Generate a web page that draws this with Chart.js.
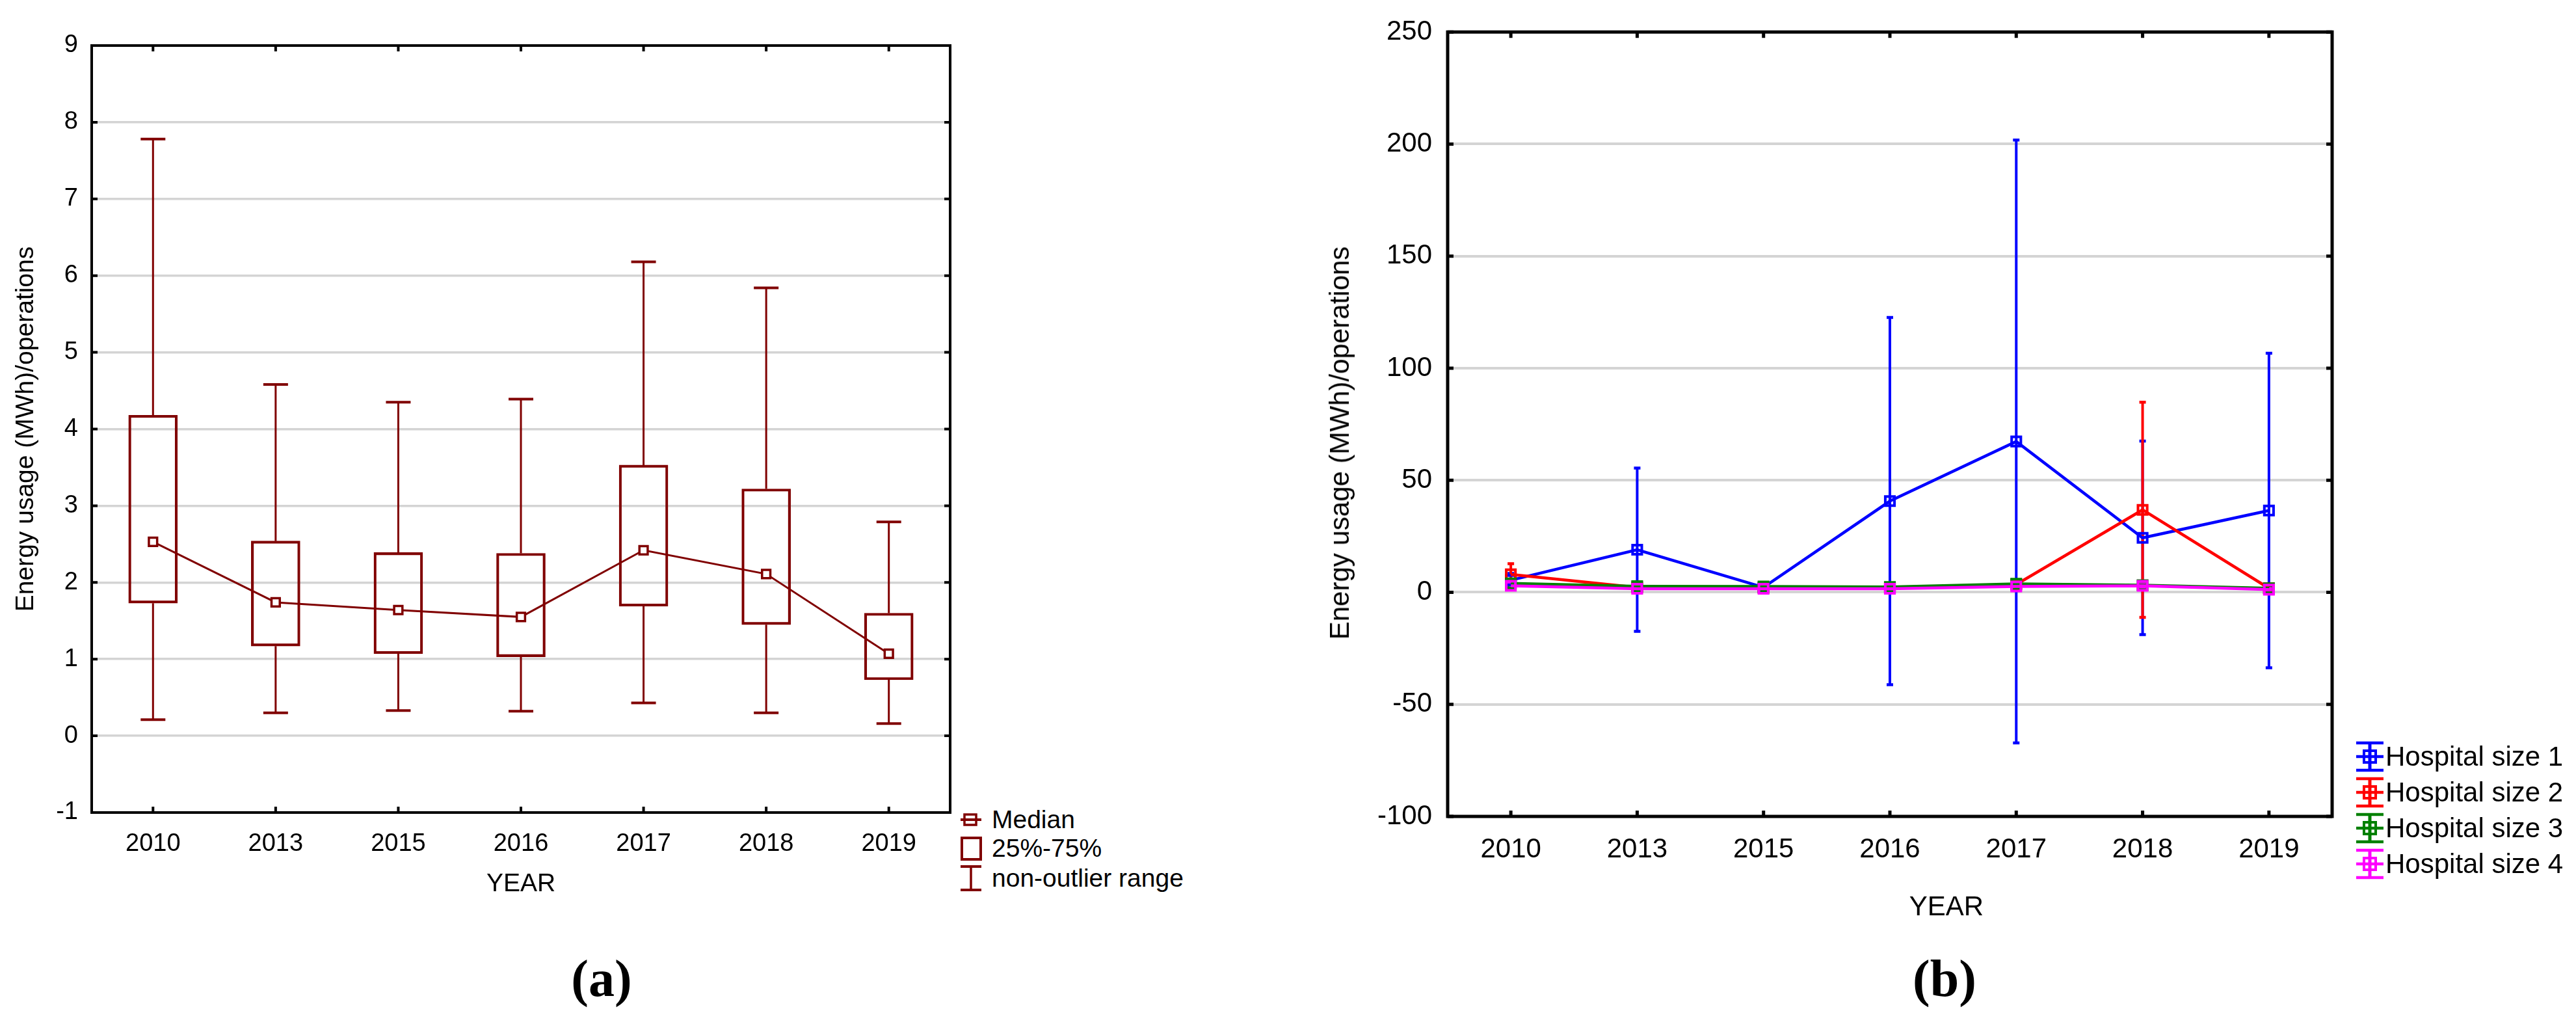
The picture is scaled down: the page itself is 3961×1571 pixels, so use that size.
<!DOCTYPE html>
<html>
<head>
<meta charset="utf-8">
<script src="https://cdn.jsdelivr.net/npm/chart.js@4/dist/chart.umd.min.js"></script>
<style>
  html, body { margin:0; padding:0; background:#fff; }
  body { width:3961px; height:1571px; position:relative; overflow:hidden; font-family:"Liberation Sans", Arial, sans-serif; color:#000; }
  canvas { position:absolute; }
  .lbl { position:absolute; white-space:nowrap; font-family:"Liberation Sans", Arial, sans-serif; color:#000; }
  .cap { position:absolute; white-space:nowrap; font-family:"Liberation Serif","Times New Roman",serif; font-weight:bold; font-size:80px; line-height:80px; transform:translateX(-50%); }
</style>
</head>
<body>
<canvas id="chartA" width="1500" height="1400" style="left:0;top:0;width:1500px;height:1400px;"></canvas>
<canvas id="chartB" width="1971" height="1400" style="left:1990px;top:0;width:1971px;height:1400px;"></canvas>

<!-- legend (a) -->
<div class="lbl" style="left:1525px;top:1240px;font-size:39px;line-height:39px;">Median</div>
<div class="lbl" style="left:1525px;top:1284px;font-size:39px;line-height:39px;">25%-75%</div>
<div class="lbl" style="left:1525px;top:1330px;font-size:39px;line-height:39px;">non-outlier range</div>

<!-- axis titles (b) -->
<div class="lbl" style="left:2060px;top:681px;font-size:42px;line-height:42px;transform:translate(-50%,-50%) rotate(-90deg);">Energy usage (MWh)/operations</div>
<div class="lbl" style="left:2993px;top:1393px;font-size:42px;line-height:42px;transform:translate(-50%,-50%);">YEAR</div>

<!-- legend (b) -->
<div class="lbl" style="left:3668px;top:1142px;font-size:42px;line-height:42px;">Hospital size 1</div>
<div class="lbl" style="left:3668px;top:1197px;font-size:42px;line-height:42px;">Hospital size 2</div>
<div class="lbl" style="left:3668px;top:1252px;font-size:42px;line-height:42px;">Hospital size 3</div>
<div class="lbl" style="left:3668px;top:1307px;font-size:42px;line-height:42px;">Hospital size 4</div>

<div class="cap" style="left:925px;top:1464px;">(a)</div>
<div class="cap" style="left:2990px;top:1464px;">(b)</div>

<svg id="legendIcons" width="3961" height="1571" style="position:absolute;left:0;top:0;pointer-events:none;"></svg>

<script>
// ---------------- DATA ----------------
const years = ['2010', '2013', '2015', '2016', '2017', '2018', '2019'];

// (a) box plot: non-outlier range, quartiles, median
const boxMin    = [0.21, 0.30, 0.33, 0.32, 0.43, 0.30, 0.16];
const boxQ1     = [1.73, 1.17, 1.07, 1.03, 1.69, 1.45, 0.73];
const boxMedian = [2.53, 1.74, 1.64, 1.55, 2.42, 2.11, 1.07];
const boxQ3     = [4.18, 2.54, 2.39, 2.38, 3.53, 3.22, 1.60];
const boxMax    = [7.78, 4.58, 4.35, 4.39, 6.18, 5.84, 2.79];

// (b) means with error bar half-widths per hospital size
const size1Mean = [5.4, 19.0, 2.2, 40.7, 67.3, 24.3, 36.5];
const size1Err  = [3.0, 36.4, 1.5, 81.9, 134.5, 43.2, 70.2];
const size2Mean = [8.0, 2.2, 2.0, 2.0, 3.5, 36.8, 1.8];
const size2Err  = [4.8, 1.0, 1.0, 1.0, 1.0, 48.0, 1.0];
const size3Mean = [4.0, 2.7, 2.6, 2.4, 3.8, 3.2, 1.8];
const size3Err  = [1.0, 0.8, 0.8, 0.8, 1.0, 1.0, 0.6];
const size4Mean = [2.9, 1.6, 1.6, 1.6, 2.6, 2.9, 1.2];
const size4Err  = [1.0, 0.6, 0.6, 0.6, 0.8, 0.8, 0.5];

const seriesNames = ['Hospital size 1', 'Hospital size 2', 'Hospital size 3', 'Hospital size 4'];
const seriesColors = ['#0000ff', '#ff0000', '#008000', '#ff00ff'];

const yTicksA = { min: -1, max: 9, step: 1 };
const yTicksB = { min: -100, max: 250, step: 50 };

// ---------------- STYLE ----------------
const DR = '#800000';
const FONT = '"Liberation Sans", Arial, sans-serif';
const GRID = '#d4d4d4';

// frame + inward tick marks
const framePlugin = {
  id: 'frame',
  afterDraw(chart, args, opts) {
    const { ctx, chartArea: a, scales: { x, y } } = chart;
    const tl = opts.tickLen || 9;
    ctx.save();
    ctx.strokeStyle = '#000';
    ctx.lineWidth = opts.tickWidth || 4;
    ctx.beginPath();
    y.ticks.forEach(t => {
      const py = y.getPixelForValue(t.value);
      ctx.moveTo(a.left, py); ctx.lineTo(a.left + tl, py);
      ctx.moveTo(a.right, py); ctx.lineTo(a.right - tl, py);
    });
    x.ticks.forEach((t, i) => {
      const px = x.getPixelForValue(i);
      ctx.moveTo(px, a.bottom); ctx.lineTo(px, a.bottom - tl);
      ctx.moveTo(px, a.top); ctx.lineTo(px, a.top + tl);
    });
    ctx.stroke();
    ctx.lineWidth = opts.lineWidth || 4;
    ctx.strokeRect(a.left, a.top, a.right - a.left, a.bottom - a.top);
    ctx.restore();
  }
};

// whiskers for box plot
const whiskerPlugin = {
  id: 'whiskers',
  beforeDatasetsDraw(chart, args, opts) {
    if (!opts.enabled) return;
    const { ctx, scales: { x, y } } = chart;
    ctx.save();
    ctx.strokeStyle = DR;
    boxMin.forEach((lo, i) => {
      const px = x.getPixelForValue(i);
      const yLo = y.getPixelForValue(lo), yQ1 = y.getPixelForValue(boxQ1[i]);
      const yQ3 = y.getPixelForValue(boxQ3[i]), yHi = y.getPixelForValue(boxMax[i]);
      ctx.lineWidth = 3;
      ctx.beginPath();
      ctx.moveTo(px, yLo); ctx.lineTo(px, yQ1);
      ctx.moveTo(px, yQ3); ctx.lineTo(px, yHi);
      ctx.stroke();
      ctx.lineWidth = 4;
      ctx.beginPath();
      ctx.moveTo(px - 19, yLo); ctx.lineTo(px + 19, yLo);
      ctx.moveTo(px - 19, yHi); ctx.lineTo(px + 19, yHi);
      ctx.stroke();
    });
    ctx.restore();
  }
};

// error bars for the mean plot
const errorBarPlugin = {
  id: 'errorbars',
  beforeDatasetsDraw(chart, args, opts) {
    if (!opts.enabled) return;
    const { ctx, scales: { x, y } } = chart;
    ctx.save();
    // draw size 1 first so later series sit on top
    const ds = chart.data.datasets.slice().sort((a, b) => a.seriesIndex - b.seriesIndex);
    ds.forEach(d => {
      ctx.strokeStyle = d.borderColor;
      d.data.forEach((m, i) => {
        const e = d.err[i];
        const px = x.getPixelForValue(i);
        const yT = y.getPixelForValue(m + e), yB = y.getPixelForValue(m - e);
        ctx.lineWidth = 4;
        ctx.beginPath();
        ctx.moveTo(px, yT); ctx.lineTo(px, yB);
        ctx.stroke();
        ctx.lineWidth = 4.5;
        ctx.beginPath();
        ctx.moveTo(px - 5, yT); ctx.lineTo(px + 5, yT);
        ctx.moveTo(px - 5, yB); ctx.lineTo(px + 5, yB);
        ctx.stroke();
      });
    });
    ctx.restore();
  }
};

// ---------------- CHART (a) ----------------
new Chart(document.getElementById('chartA'), {
  type: 'bar',
  data: {
    labels: years,
    datasets: [
      {
        type: 'line', label: 'Median', data: boxMedian,
        borderColor: DR, borderWidth: 3, tension: 0,
        pointStyle: 'rect', pointRadius: 9, pointBorderWidth: 3.5,
        pointBackgroundColor: '#ffffff', pointBorderColor: DR, order: 0
      },
      {
        type: 'bar', label: '25%-75%',
        data: years.map((_, i) => [boxQ1[i], boxQ3[i]]),
        backgroundColor: 'rgba(255,255,255,0)', borderColor: DR, borderWidth: 3.5,
        borderSkipped: false, barThickness: 75, order: 1
      }
    ]
  },
  options: {
    responsive: false, animation: false, devicePixelRatio: 1,
    layout: { padding: { left: 0, right: 39, top: 70, bottom: 17 } },
    plugins: {
      legend: { display: false }, tooltip: { enabled: false },
      whiskers: { enabled: true }, errorbars: { enabled: false },
      frame: { lineWidth: 4, tickWidth: 4, tickLen: 9 }
    },
    scales: {
      x: {
        grid: { display: false }, border: { display: false },
        ticks: { color: '#000', font: { family: FONT, size: 38 }, padding: 18, maxRotation: 0, autoSkip: false },
        title: { display: true, text: 'YEAR', color: '#000', font: { family: FONT, size: 39 }, padding: { top: 0, bottom: 0 } },
        afterFit: s => { s.height = 134; }
      },
      y: {
        min: yTicksA.min, max: yTicksA.max,
        ticks: { stepSize: yTicksA.step, color: '#000', font: { family: FONT, size: 38 }, padding: 21 },
        grid: { color: GRID, lineWidth: 3.5, drawTicks: false },
        border: { display: false },
        title: { display: true, text: 'Energy usage (MWh)/operations', color: '#000', font: { family: FONT, size: 39 }, padding: { top: 17, bottom: 0 } },
        afterFit: s => { s.width = 141; }
      }
    }
  },
  plugins: [whiskerPlugin, errorBarPlugin, framePlugin]
});

// ---------------- CHART (b) ----------------
const meansB = [size1Mean, size2Mean, size3Mean, size4Mean];
const errsB = [size1Err, size2Err, size3Err, size4Err];

new Chart(document.getElementById('chartB'), {
  type: 'line',
  data: {
    labels: years,
    datasets: seriesNames.map((name, k) => ({
      label: name, data: meansB[k], err: errsB[k], seriesIndex: k,
      borderColor: seriesColors[k], borderWidth: 4.5, tension: 0,
      pointStyle: 'rect', pointRadius: 10, pointBorderWidth: 4,
      pointBackgroundColor: 'rgba(255,255,255,0)', pointBorderColor: seriesColors[k],
      order: 3 - k
    }))
  },
  options: {
    responsive: false, animation: false, devicePixelRatio: 1,
    layout: { padding: { left: 0, right: 375, top: 33, bottom: 45 } },
    plugins: {
      legend: { display: false }, tooltip: { enabled: false },
      whiskers: { enabled: false }, errorbars: { enabled: true },
      frame: { lineWidth: 5, tickWidth: 5, tickLen: 9 }
    },
    scales: {
      x: {
        offset: true,
        grid: { display: false }, border: { display: false },
        ticks: { color: '#000', font: { family: FONT, size: 42 }, padding: 18, maxRotation: 0, autoSkip: false },
        afterFit: s => { s.height = 100; }
      },
      y: {
        min: yTicksB.min, max: yTicksB.max,
        ticks: { stepSize: yTicksB.step, color: '#000', font: { family: FONT, size: 42 }, padding: 24 },
        grid: { color: GRID, lineWidth: 4, drawTicks: false },
        border: { display: false },
        afterFit: s => { s.width = 236; }
      }
    }
  },
  plugins: [whiskerPlugin, errorBarPlugin, framePlugin]
});

// ---------------- LEGEND ICONS ----------------
(function () {
  const svg = document.getElementById('legendIcons');
  const NS = 'http://www.w3.org/2000/svg';
  function el(tag, attrs) {
    const e = document.createElementNS(NS, tag);
    for (const k in attrs) e.setAttribute(k, attrs[k]);
    svg.appendChild(e);
  }
  // (a)
  el('line', { x1: 1477, y1: 1260, x2: 1509, y2: 1260, stroke: DR, 'stroke-width': 4 });
  el('rect', { x: 1483, y: 1252, width: 18, height: 16, fill: 'none', stroke: DR, 'stroke-width': 3.5 });
  el('rect', { x: 1479, y: 1288, width: 29, height: 33, fill: 'none', stroke: DR, 'stroke-width': 4 });
  el('line', { x1: 1493, y1: 1332, x2: 1493, y2: 1368, stroke: DR, 'stroke-width': 3.5 });
  el('line', { x1: 1477, y1: 1332, x2: 1509, y2: 1332, stroke: DR, 'stroke-width': 4 });
  el('line', { x1: 1477, y1: 1368, x2: 1509, y2: 1368, stroke: DR, 'stroke-width': 4 });
  // (b)
  const centers = [1163, 1218, 1273, 1328];
  centers.forEach((cy, k) => {
    const c = seriesColors[k];
    el('line', { x1: 3644, y1: cy - 21, x2: 3644, y2: cy + 21, stroke: c, 'stroke-width': 5 });
    el('line', { x1: 3623, y1: cy - 21, x2: 3665, y2: cy - 21, stroke: c, 'stroke-width': 4.5 });
    el('line', { x1: 3623, y1: cy + 21, x2: 3665, y2: cy + 21, stroke: c, 'stroke-width': 4.5 });
    el('line', { x1: 3623, y1: cy, x2: 3665, y2: cy, stroke: c, 'stroke-width': 4.5 });
    el('rect', { x: 3635, y: cy - 9, width: 18, height: 18, fill: 'none', stroke: c, 'stroke-width': 4 });
  });
})();
</script>
</body>
</html>
